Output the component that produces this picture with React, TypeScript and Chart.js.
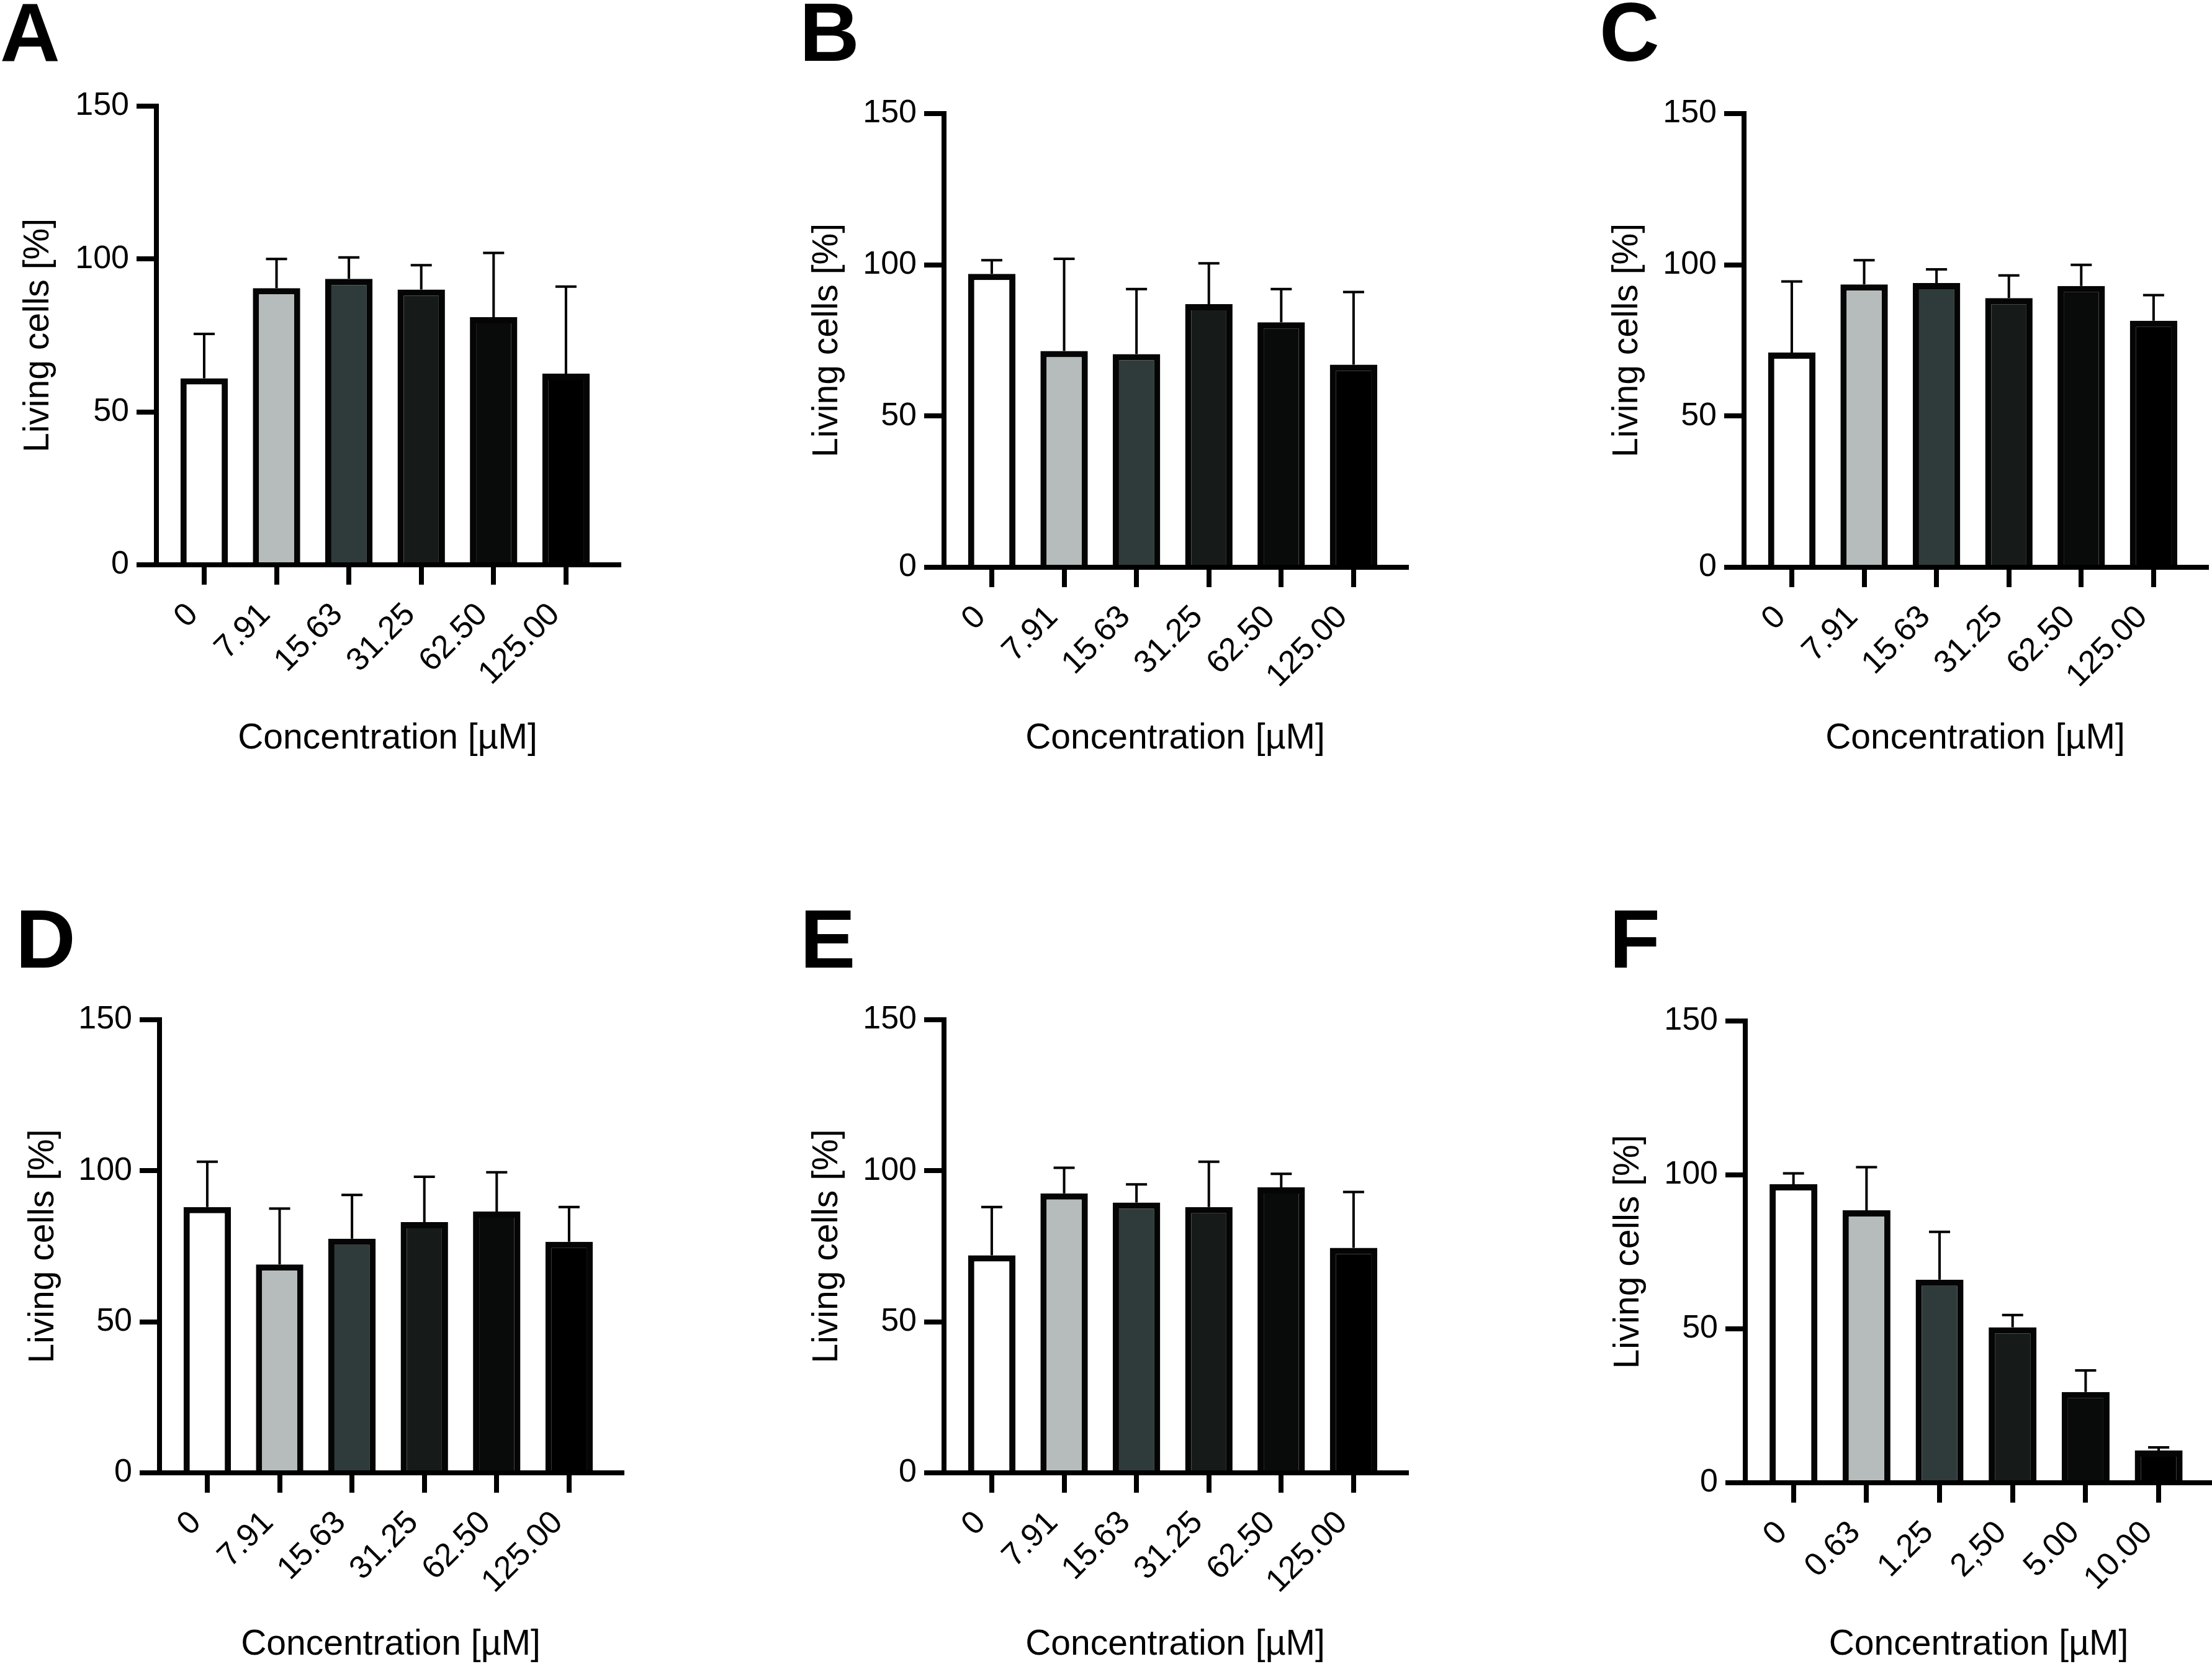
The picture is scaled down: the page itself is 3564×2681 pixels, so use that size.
import React, { useEffect, useRef } from "react";
import { Chart, registerables } from "chart.js";

Chart.register(...registerables);

// Tick labels (concentrations in µM)
const concLabels = ["0", "7.91", "15.63", "31.25", "62.50", "125.00"];
const concLabelsF = ["0", "0.63", "1.25", "2,50", "5.00", "10.00"];

// Mean living cells [%] and SD per panel
const meanA = [61, 90.5, 93.5, 90, 81, 62.5];
const sdA = [14.5, 9.5, 7, 8, 21, 28.5];
const meanB = [97, 71.5, 70.5, 87, 81, 67];
const sdB = [4.5, 30.5, 21.5, 13.5, 11, 24];
const meanC = [71, 93.5, 94, 89, 93, 81.5];
const sdC = [23.5, 8, 4.5, 7.5, 7, 8.5];
const meanD = [88, 69, 77.5, 83, 86.5, 76.5];
const sdD = [15, 18.5, 14.5, 15, 13, 11.5];
const meanE = [72, 92.5, 89.5, 88, 94.5, 74.5];
const sdE = [16, 8.5, 6, 15, 4.5, 18.5];
const meanF = [97, 88.5, 66, 50.5, 29.5, 10.5];
const sdF = [3.5, 14, 15.5, 4, 7, 1];

const yTicks = [0, 50, 100, 150];

const barFills = ["#ffffff", "#b5bcbb", "#2f3b3b", "#161b1a", "#080b0a", "#000000"];

const FONT = "'Liberation Sans', Arial, Helvetica, sans-serif";
const TITLE_SIZE = 57;
const TICK_SIZE = 52;
const TITLE_LH = TITLE_SIZE * 1.2;

type Panel = {
  letter: string;
  labels: string[];
  mean: number[];
  sd: number[];
  // canvas box (page px)
  cl: number; ct: number; cw: number; ch: number;
  // plot area (page px)
  aL: number; aT: number; aR: number; aB: number;
  yTitleX: number; xTitleY: number;
  letterX: number; letterY: number;
};

const panels: Panel[] = [
  { letter: "A", labels: concLabels, mean: meanA, sd: sdA,
    cl: 0, ct: 0, cw: 1190, ch: 1330, aL: 252, aT: 171, aR: 997, aB: 910,
    yTitleX: 62, xTitleY: 1190, letterX: 0, letterY: 99 },
  { letter: "B", labels: concLabels, mean: meanB, sd: sdB,
    cl: 1190, ct: 0, cw: 1210, ch: 1330, aL: 1521, aT: 183, aR: 2266, aB: 914,
    yTitleX: 1333, xTitleY: 1190, letterX: 1288, letterY: 98 },
  { letter: "C", labels: concLabels, mean: meanC, sd: sdC,
    cl: 2400, ct: 0, cw: 1164, ch: 1330, aL: 2810, aT: 183, aR: 3555, aB: 914,
    yTitleX: 2622, xTitleY: 1190, letterX: 2577, letterY: 98 },
  { letter: "D", labels: concLabels, mean: meanD, sd: sdD,
    cl: 0, ct: 1340, cw: 1190, ch: 1341, aL: 257, aT: 1643, aR: 1002, aB: 2373,
    yTitleX: 70, xTitleY: 2650, letterX: 25, letterY: 1559 },
  { letter: "E", labels: concLabels, mean: meanE, sd: sdE,
    cl: 1190, ct: 1340, cw: 1210, ch: 1341, aL: 1521, aT: 1643, aR: 2266, aB: 2373,
    yTitleX: 1333, xTitleY: 2650, letterX: 1289, letterY: 1559 },
  { letter: "F", labels: concLabelsF, mean: meanF, sd: sdF,
    cl: 2400, ct: 1340, cw: 1164, ch: 1341, aL: 2812, aT: 1645, aR: 3564, aB: 2389,
    yTitleX: 2624, xTitleY: 2650, letterX: 2593, letterY: 1559 },
];

// Upper SD whiskers with a cap, drawn from each bar's top
const errorBars = {
  id: "errorBars",
  afterDatasetsDraw(chart: any, _args: any, opts: any) {
    const { ctx, scales } = chart;
    const xs = scales.x, ys = scales.y;
    const mean: number[] = opts.mean || [];
    const sd: number[] = opts.sd || [];
    const cap = opts.cap || 17;
    ctx.save();
    ctx.strokeStyle = "#000";
    ctx.lineWidth = opts.lineWidth || 4;
    ctx.lineCap = "butt";
    mean.forEach((m, i) => {
      const x = xs.getPixelForValue(i);
      const y0 = ys.getPixelForValue(m);
      const y1 = ys.getPixelForValue(m + sd[i]);
      ctx.beginPath();
      ctx.moveTo(x, y0);
      ctx.lineTo(x, y1);
      ctx.moveTo(x - cap, y1);
      ctx.lineTo(x + cap, y1);
      ctx.stroke();
    });
    ctx.restore();
  },
};

// Bold panel letter in the top-left corner
const panelLetter = {
  id: "panelLetter",
  afterDraw(chart: any, _args: any, opts: any) {
    const { ctx } = chart;
    ctx.save();
    ctx.fillStyle = "#000";
    ctx.font = `bold ${opts.size || 134}px ${FONT}`;
    ctx.textAlign = "left";
    ctx.textBaseline = "alphabetic";
    ctx.fillText(opts.text, opts.x, opts.y);
    ctx.restore();
  },
};

function BarPanel({ p }: { p: Panel }) {
  const ref = useRef<HTMLCanvasElement | null>(null);

  useEffect(() => {
    if (!ref.current) return;
    const padL = p.yTitleX - p.cl - TITLE_LH / 2;
    const yw = p.aL - p.cl - padL;
    const padT = p.aT - p.ct;
    const padR = Math.max(0, p.cl + p.cw - p.aR);
    const xh = p.xTitleY - p.aB + TITLE_LH / 2;
    const padB = p.ct + p.ch - (p.aB + xh);
    const titleFont = { family: FONT, size: TITLE_SIZE, weight: "normal" as const };
    const tickFont = { family: FONT, size: TICK_SIZE, weight: "normal" as const };

    const chart = new Chart(ref.current, {
      type: "bar",
      data: {
        datasets: [
          {
            data: p.mean.map((y, i) => ({ x: i, y })),
            backgroundColor: barFills,
            borderColor: "#050505",
            borderWidth: 10,
            borderSkipped: "bottom",
            barPercentage: 0.655,
            categoryPercentage: 1,
          } as any,
        ],
      },
      options: {
        responsive: false,
        animation: false,
        devicePixelRatio: 1,
        layout: { padding: { left: padL, top: padT, right: padR, bottom: padB } },
        plugins: {
          legend: { display: false },
          tooltip: { enabled: false },
          errorBars: { mean: p.mean, sd: p.sd, lineWidth: 4, cap: 17 },
          panelLetter: { text: p.letter, x: p.letterX - p.cl, y: p.letterY - p.ct, size: 134 },
        } as any,
        scales: {
          x: {
            type: "linear",
            min: -0.66,
            max: p.labels.length - 1 + 0.73,
            offset: false,
            afterBuildTicks: (axis: any) => {
              axis.ticks = p.labels.map((_, i) => ({ value: i }));
            },
            afterFit: (s: any) => { s.height = xh; },
            ticks: {
              autoSkip: false,
              minRotation: 45,
              maxRotation: 45,
              padding: 18,
              labelOffset: -18,
              color: "#000",
              font: tickFont,
              callback: (v: any) => p.labels[v as number] ?? "",
            },
            grid: {
              display: true,
              offset: false,
              drawOnChartArea: false,
              drawTicks: true,
              tickLength: 32,
              tickWidth: 8,
              tickColor: "#000",
              color: "#000",
              lineWidth: 8,
            },
            border: { display: true, color: "#000", width: 8, z: 1 } as any,
            title: { display: true, text: "Concentration [µM]", color: "#000", font: titleFont, padding: 0 },
          },
          y: {
            min: 0,
            max: 150,
            afterBuildTicks: (axis: any) => {
              axis.ticks = yTicks.map((v) => ({ value: v }));
            },
            afterFit: (s: any) => { s.width = yw; },
            ticks: { padding: 12, color: "#000", font: tickFont },
            grid: {
              display: true,
              drawOnChartArea: false,
              drawTicks: true,
              tickLength: 32,
              tickWidth: 8,
              tickColor: "#000",
              color: "#000",
              lineWidth: 8,
            },
            border: { display: true, color: "#000", width: 8, z: 1 } as any,
            title: { display: true, text: "Living cells [%]", color: "#000", font: titleFont, padding: 0 },
          },
        } as any,
      },
      plugins: [errorBars, panelLetter],
    });
    return () => chart.destroy();
  }, [p]);

  return (
    <canvas
      ref={ref}
      width={p.cw}
      height={p.ch}
      style={{ position: "absolute", left: p.cl, top: p.ct, width: p.cw, height: p.ch }}
    />
  );
}

export default function App() {
  return (
    <div
      style={{
        position: "absolute",
        left: 0,
        top: 0,
        width: 3564,
        height: 2681,
        background: "#fff",
        overflow: "hidden",
      }}
    >
      {panels.map((p) => (
        <BarPanel key={p.letter} p={p} />
      ))}
    </div>
  );
}
